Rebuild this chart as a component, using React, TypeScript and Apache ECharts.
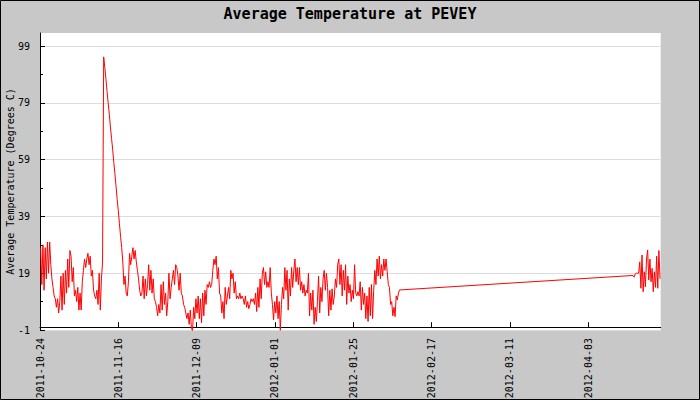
import { useEffect, useRef } from "react";
import * as echarts from "echarts";

const TITLE = "Average Temperature at PEVEY";
const Y_NAME = "Average Temperature (Degrees C)";
const FONT = "DejaVu Sans Mono";

// x positions are in days counted from 2011-10-24 00:00 UTC
const EPOCH = Date.UTC(2011, 9, 24);
const DAY_MS = 86400000;
const X_MIN = 0.3;
const X_MAX = 184.2;
const X_TICK_DAYS = [0.3, 23.5, 46.7, 69.9, 93.1, 116.3, 139.5, 162.7];

const Y_MIN = -1;
const Y_MAX = 103.6;
const Y_TICKS = [-1, 19, 39, 59, 79, 99];
const Y_MINOR_TICKS = [9, 29, 49, 69, 89];

// readings every 8 hours
const SAMPLE_STEP = 1 / 3;

// first run of readings, from 2011-10-24 12:00
const RUN1_START = 0.5;
const RUN1 = [
  28, 15, 29, 13, 28, 17, 30, 19, 30, 22,
  17, 14, 11, 10, 7, 10, 5, 9,
  18, 6, 19, 8, 20, 12, 24, 14, 27,
  25, 16, 21, 11, 13, 9, 14, 6, 12,
  6, 16, 20, 24, 21, 24, 26, 22, 25, 18,
  20, 13, 11, 10, 13, 8, 19, 6, 17, 23,
  95.2, 91.5, 87.5, 83, 79, 75, 70.5, 66.5, 62.5, 58, 54, 49.5, 45, 41, 36.5, 32, 28, 23,
  15, 18, 12, 11, 16, 26, 22, 25,
  28, 24, 27, 23, 20, 17, 13, 11, 12,
  18, 10, 17, 11, 15, 22, 13, 20,
  12, 17, 10, 9, 7, 4, 8, 5, 15,
  6, 16, 8, 12, 4, 9, 19, 10, 14,
  17, 20, 15, 22, 21, 18, 13, 19, 12,
  11, 8, 7, 5, 3, 5, 1, 6, -0.5,
  -1.3, 7, 3, 10, 5, 11, 3, 10,
  1.5, 12, 4, 13, 8, 15,
  14, 16, 14, 15, 20, 24, 22,
  25, 17, 21, 12, 11, 5, 9,
  3, 14, 8, 11, 14, 10,
  20, 17, 19, 12, 16, 10,
  11, 10, 12, 10, 11, 10,
  8, 11, 7, 9, 6.5, 8,
  10, 9, 10, 8, 12, 5.5, 14,
  7, 17, 10, 19, 21, 15, 19.5, 14,
  16, 14, 21, 12, 8, 2.5, 9, 5,
  11, 3, 9, -1.2, 8, 14, 10, 21,
  13, 20, 6, 17, 11, 21, 14, 20,
  24, 16, 21, 15, 21, 13, 16,
  12, 15, 11, 13, 12, 19, 4, 12, 6, 13,
  1, 7, 2, 9, 18, 5, 14, 9, 17,
  20, 13, 19, 14, 4, 13, 6,
  13.5, 8, 11, 17, 14, 22, 24,
  15, 22, 11, 20, 13, 22, 8, 18, 12,
  15, 9, 13, 10, 22, 12, 11, 12.5, 11,
  16, 6, 14, 8, 12, 3, 11, 2, 14,
  4, 15, 3, 13, 20, 15, 24, 18,
  25, 17, 22, 18, 24, 20, 24, 19.5,
  15, 14, 8, 9, 4, 7, 3.7,
  11, 9.6, 12, 13.1,
];

// second run of readings, from 2012-04-17 00:00
const RUN2_START = 176;
const RUN2 = [
  18.2, 17.6, 18.8, 19, 19, 19, 23, 13.7, 25.4, 12.5,
  19.5, 14.2, 24, 27.2, 16.6, 24, 16, 20.7, 12.5, 19.5,
  14, 25, 13.7, 27, 17,
];

function toPoints(start: number, values: number[]) {
  return values.map((v, i) => [start + i * SAMPLE_STEP, v]);
}

function dayLabel(day: number) {
  const d = new Date(EPOCH + day * DAY_MS);
  const mm = String(d.getUTCMonth() + 1).padStart(2, "0");
  const dd = String(d.getUTCDate()).padStart(2, "0");
  return `${d.getUTCFullYear()}-${mm}-${dd}`;
}

export default function App() {
  const ref = useRef<HTMLDivElement>(null);

  useEffect(() => {
    document.body.style.margin = "0";
    if (!ref.current) return;
    const chart = echarts.init(ref.current, undefined, { renderer: "svg" });
    const data = [...toPoints(RUN1_START, RUN1), ...toPoints(RUN2_START, RUN2)];
    const textBase = { fontFamily: FONT, fontSize: 10, color: "#000" };

    chart.setOption({
      animation: false,
      backgroundColor: "#c8c8c8",
      title: {
        text: TITLE,
        left: "center",
        top: 1,
        textStyle: { fontFamily: FONT, fontSize: 15, fontWeight: "bold", color: "#000" },
      },
      grid: {
        left: 40,
        top: 33,
        right: 39.3,
        bottom: 70,
        show: true,
        backgroundColor: "#fff",
        borderWidth: 0,
        containLabel: false,
        outerBoundsMode: "none",
      },
      xAxis: {
        type: "value",
        min: X_MIN,
        max: X_MAX,
        axisLine: { onZero: true, lineStyle: { color: "#000", width: 1 } },
        axisTick: {
          inside: true,
          length: 5,
          customValues: X_TICK_DAYS,
          lineStyle: { color: "#000" },
        },
        axisLabel: {
          ...textBase,
          customValues: X_TICK_DAYS,
          rotate: 90,
          margin: 8,
          formatter: (v: number) => dayLabel(v),
        },
        splitLine: { show: false },
      },
      yAxis: [
        {
          type: "value",
          min: Y_MIN,
          max: Y_MAX,
          name: Y_NAME,
          nameLocation: "middle",
          nameGap: 25,
          nameMoveOverlap: false,
          nameTextStyle: textBase,
          axisLine: { show: true, onZero: false, lineStyle: { color: "#000", width: 1 } },
          axisTick: {
            show: true,
            inside: true,
            length: 5,
            customValues: Y_TICKS,
            lineStyle: { color: "#000" },
          },
          axisLabel: { ...textBase, customValues: Y_TICKS, margin: 10 },
          splitLine: { show: true, lineStyle: { color: "#dcdcdc", width: 1 } },
        },
        {
          type: "value",
          min: Y_MIN,
          max: Y_MAX,
          position: "left",
          axisLine: { show: false },
          axisTick: {
            show: true,
            inside: true,
            length: 3,
            customValues: Y_MINOR_TICKS,
            lineStyle: { color: "#000" },
          },
          axisLabel: { show: false },
          splitLine: { show: false },
        },
      ],
      series: [
        {
          type: "line",
          data,
          symbol: "none",
          showSymbol: false,
          lineStyle: { color: "#ff0000", width: 1 },
          itemStyle: { color: "#ff0000" },
          z: 3,
        },
      ],
      graphic: [
        {
          type: "rect",
          silent: true,
          z: 100,
          shape: { x: 0.5, y: 0.5, width: 699, height: 399 },
          style: { fill: "none", stroke: "#000", lineWidth: 1 },
        },
      ],
    });

    return () => chart.dispose();
  }, []);

  return <div ref={ref} style={{ width: 700, height: 400 }} />;
}
